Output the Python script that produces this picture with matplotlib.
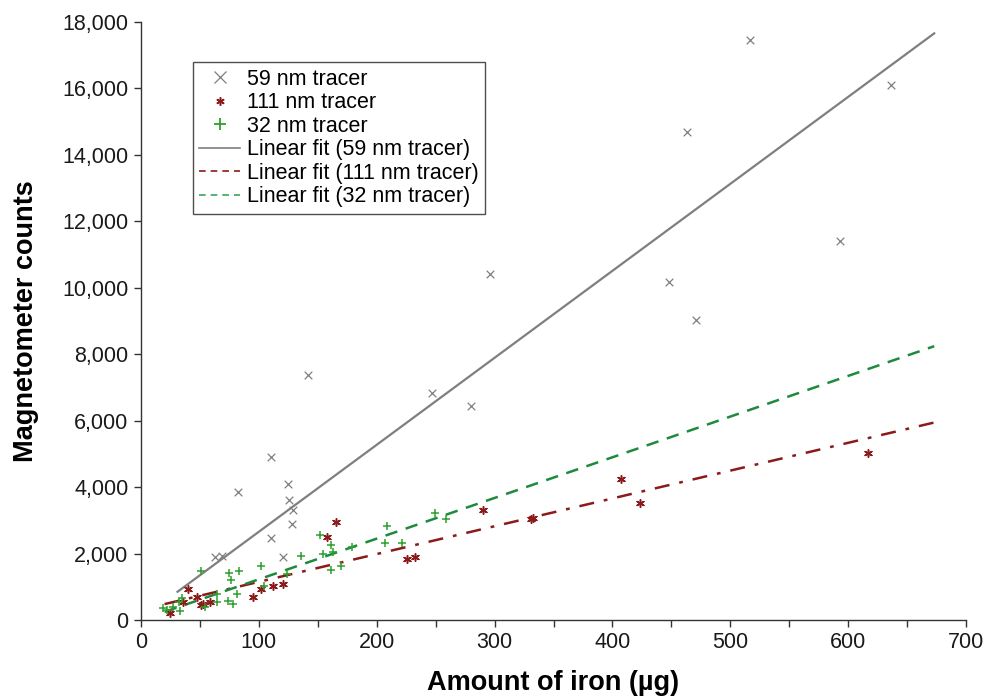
import matplotlib
matplotlib.use("Agg")
import matplotlib.pyplot as plt
from matplotlib.lines import Line2D
from matplotlib.ticker import FuncFormatter, MultipleLocator
import numpy as np

# 59 nm tracer (grey x)
iron_59 = [62.8, 68.7, 82.3, 110.4, 110.3, 120.4, 124.4, 125.5, 128.6, 127.8,
           141.9, 247.1, 279.6, 296.3, 448.1, 463.3, 471.3, 516.5, 592.9, 636.1]
counts_59 = [1887, 1936, 3853, 4910, 2478, 1887, 4094, 3622, 3311, 2900,
             7385, 6824, 6442, 10415, 10175, 14680, 9021, 17460, 11418, 16105]

# 111 nm tracer (dark red asterisk)
iron_111 = [24.6, 35.9, 39.6, 47.2, 50.9, 52.8, 58.5, 95.3, 101.5, 112.2,
            120.7, 158.0, 165.1, 225.3, 232.1, 289.8, 330.5, 332.8, 406.9, 423.2, 616.9]
counts_111 = [220, 551, 924, 683, 452, 470, 551, 702, 924, 1023,
              1084, 2489, 2960, 1836, 1906, 3311, 3040, 3061, 4235, 3512, 5037]

# 32 nm tracer (green +)
iron_32 = [18.9, 21.8, 27.0, 33.1, 32.5, 34.5, 50.6, 54.3, 64.2, 64.7, 74.0,
           74.9, 76.1, 78.3, 81.7, 82.9, 101.5, 104.3, 124.1, 135.5, 151.8,
           154.1, 160.9, 160.9, 163.1, 169.4, 179.0, 207.0, 208.9, 221.1, 249.4, 258.7]
counts_32 = [352, 301, 380, 281, 551, 653, 1484, 382, 783, 542, 581,
             1424, 1204, 482, 783, 1484, 1626, 1023, 1385, 1927, 2559,
             1987, 2248, 1505, 2056, 1626, 2188, 2327, 2830, 2327, 3230, 3031]

# linear fits: (slope, intercept, x start, x end)
fit_59 = (26.18, 38, 31, 673)
fit_111 = (8.37, 311, 20, 673)
fit_32 = (12.245, 0, 20, 673)

GREY = "#7f7f7f"
RED = "#8b1a1a"
GREEN_PT = "#2ca02c"
GREEN_LN = "#1e8a3c"

plt.rcParams["font.family"] = ["Liberation Sans", "DejaVu Sans"]

fig = plt.figure(figsize=(9.95, 7.0), dpi=100)
ax = fig.add_axes([0.1417, 0.1143, 0.8292, 0.8543])

ax.scatter(iron_59, counts_59, marker="x", s=30, color=GREY, linewidths=0.9, zorder=3)
ax.scatter(iron_111, counts_111, marker=(6, 2, 0), s=30, color=RED, linewidths=1.1, zorder=3)
ax.scatter(iron_32, counts_32, marker="+", s=40, color=GREEN_PT, linewidths=1.1, zorder=3)


def fit_line(fit):
    m, b, x0, x1 = fit
    xs = np.array([x0, x1])
    return xs, m * xs + b


xs, ys = fit_line(fit_59)
ax.plot(xs, ys, color=GREY, linewidth=1.6, zorder=2)
xs, ys = fit_line(fit_111)
ax.plot(xs, ys, color=RED, linewidth=1.8, dashes=(6, 4, 1.5, 4), zorder=2)
xs, ys = fit_line(fit_32)
ax.plot(xs, ys, color=GREEN_LN, linewidth=1.8, dashes=(5, 3.5), zorder=2)

ax.set_xlim(0, 700)
ax.set_ylim(0, 18000)
ax.xaxis.set_major_locator(MultipleLocator(100))
ax.xaxis.set_minor_locator(MultipleLocator(50))
ax.yaxis.set_major_locator(MultipleLocator(2000))
ax.yaxis.set_major_formatter(FuncFormatter(lambda v, p: f"{int(v):,}"))

for side in ("top", "right"):
    ax.spines[side].set_visible(False)
for side in ("left", "bottom"):
    ax.spines[side].set_linewidth(1.0)
    ax.spines[side].set_color("#333333")

ax.tick_params(axis="both", which="major", direction="out", length=5, width=1,
               labelsize=15.5, colors="#333333", labelcolor="#1a1a1a", pad=4)
ax.tick_params(axis="x", which="minor", direction="out", length=5, width=1, colors="#333333")

ax.set_xlabel("Amount of iron (\u00b5g)", fontsize=19.5, fontweight="bold", labelpad=12)
ax.set_ylabel("Magnetometer counts", fontsize=19.5, fontweight="bold", labelpad=17)

handles = [
    Line2D([], [], linestyle="none", marker="x", color=GREY, markersize=8, markeredgewidth=0.9),
    Line2D([], [], linestyle="none", marker=(6, 2, 0), color=RED, markersize=6, markeredgewidth=1.1),
    Line2D([], [], linestyle="none", marker="+", color=GREEN_PT, markersize=9, markeredgewidth=1.3),
    Line2D([], [], color=GREY, linewidth=1.2),
    Line2D([], [], color=RED, linewidth=1.2, dashes=(4, 3)),
    Line2D([], [], color="#3aa55a", linewidth=1.2, dashes=(4, 3)),
]
labels = ["59 nm tracer", "111 nm tracer", "32 nm tracer",
          "Linear fit (59 nm tracer)", "Linear fit (111 nm tracer)",
          "Linear fit (32 nm tracer)"]
leg = ax.legend(handles, labels, loc="upper left", bbox_to_anchor=(0.063, 0.933),
                borderaxespad=0, fontsize=15.5, frameon=True, fancybox=False,
                handlelength=1.9, handletextpad=0.3, labelspacing=0.12,
                borderpad=0.3)
leg.get_frame().set_edgecolor("#222222")
leg.get_frame().set_linewidth(1.0)

fig.savefig("out.png", dpi=100)
